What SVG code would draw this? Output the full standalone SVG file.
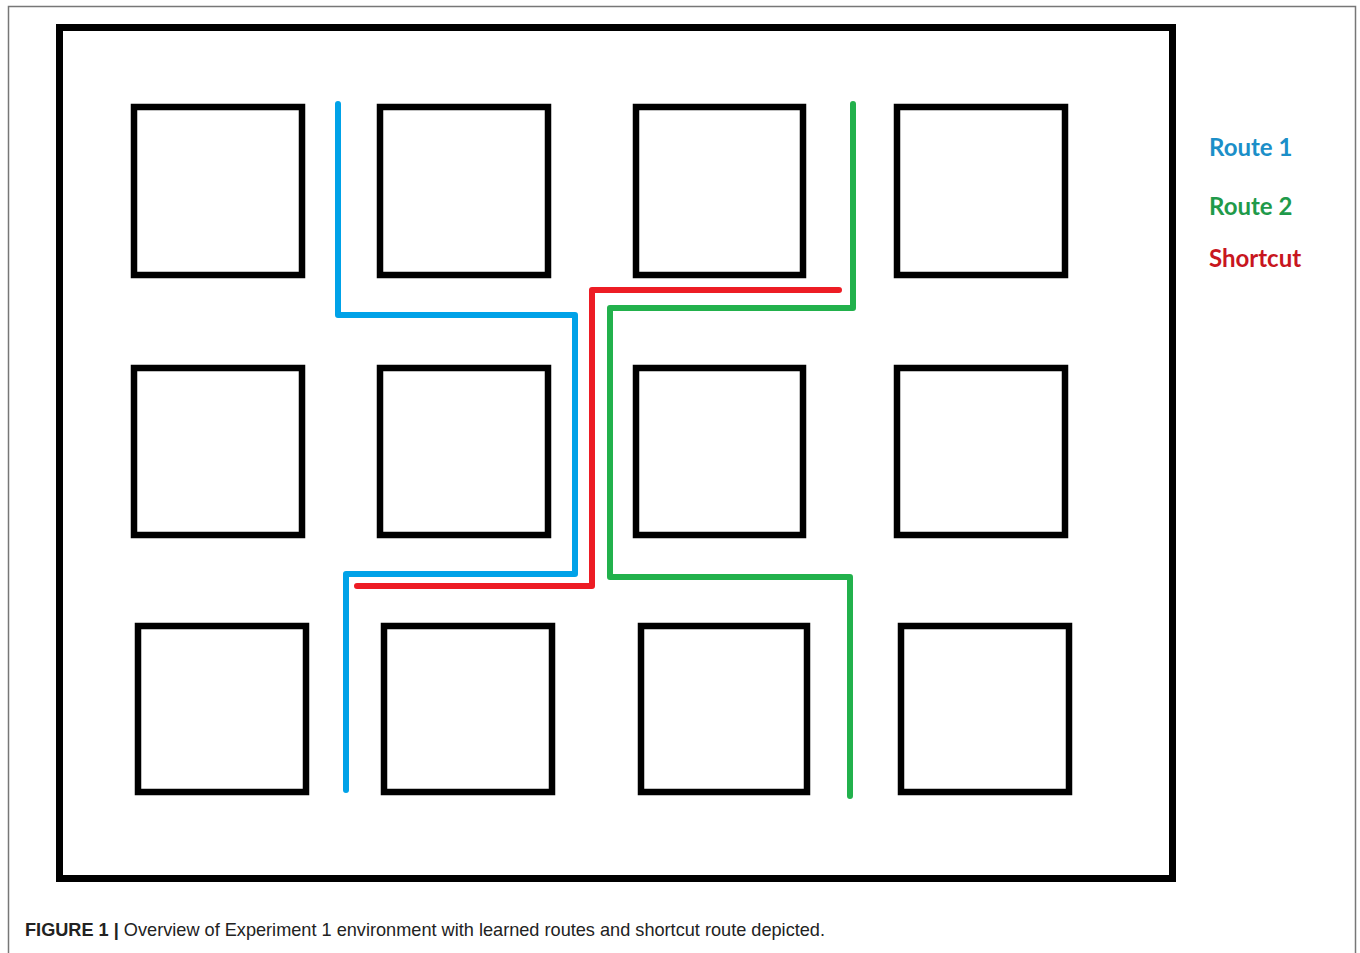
<svg xmlns="http://www.w3.org/2000/svg" width="1360" height="953" viewBox="0 0 1360 953">
<style>
.box{fill:none;stroke:#000;stroke-width:6.5}
.route{fill:none;stroke-width:6;stroke-linecap:round;stroke-linejoin:round}
.leg{font-family:Lato,"Open Sans",sans-serif;font-weight:bold;font-size:24px}
.cap{font-family:"Liberation Sans",Arial,sans-serif;font-size:18.5px;fill:#222}
</style>
<rect x="0" y="0" width="1360" height="953" fill="#fff"/>
<path d="M8.5 953 V6.5 H1355.5 V953" fill="none" stroke="#777" stroke-width="1.5"/>
<g id="frame"><rect x="59.5" y="27.5" width="1113" height="851" fill="none" stroke="#000" stroke-width="7"/></g>
<g id="blocks">
<rect id="b11" class="box" x="134" y="107" width="168" height="168"/>
<rect id="b12" class="box" x="380" y="107" width="168" height="168"/>
<rect id="b13" class="box" x="636" y="107" width="167" height="168"/>
<rect id="b14" class="box" x="897" y="107" width="168" height="168"/>
<rect id="b21" class="box" x="134" y="368" width="168" height="167"/>
<rect id="b22" class="box" x="380" y="368" width="168" height="167"/>
<rect id="b23" class="box" x="636" y="368" width="167" height="167"/>
<rect id="b24" class="box" x="897" y="368" width="168" height="167"/>
<rect id="b31" class="box" x="138" y="626" width="168" height="166"/>
<rect id="b32" class="box" x="384" y="626" width="168" height="166"/>
<rect id="b33" class="box" x="641" y="626" width="166" height="166"/>
<rect id="b34" class="box" x="901" y="626" width="168" height="166"/>
</g>
<g id="connectors">
<path id="route1" class="route" stroke="#00a2e8" d="M338 104 V315 H575 V574 H346 V790"/>
<path id="route2" class="route" stroke="#22b14c" d="M853 104 V308 H610 V577 H850 V796"/>
<path id="shortcut" class="route" stroke="#ed1c24" d="M839 290 H592 V586 H357"/>
</g>
<g id="legend">
<text class="leg" x="1209" y="156" fill="#1b8fc8">Route 1</text>
<text class="leg" x="1209" y="215" fill="#1f9a4a">Route 2</text>
<text class="leg" x="1209" y="267" fill="#c8161e">Shortcut</text>
</g>
<text class="cap" x="25" y="936" textLength="800" lengthAdjust="spacingAndGlyphs"><tspan font-weight="bold">FIGURE 1 |</tspan> Overview of Experiment 1 environment with learned routes and shortcut route depicted.</text>
</svg>
